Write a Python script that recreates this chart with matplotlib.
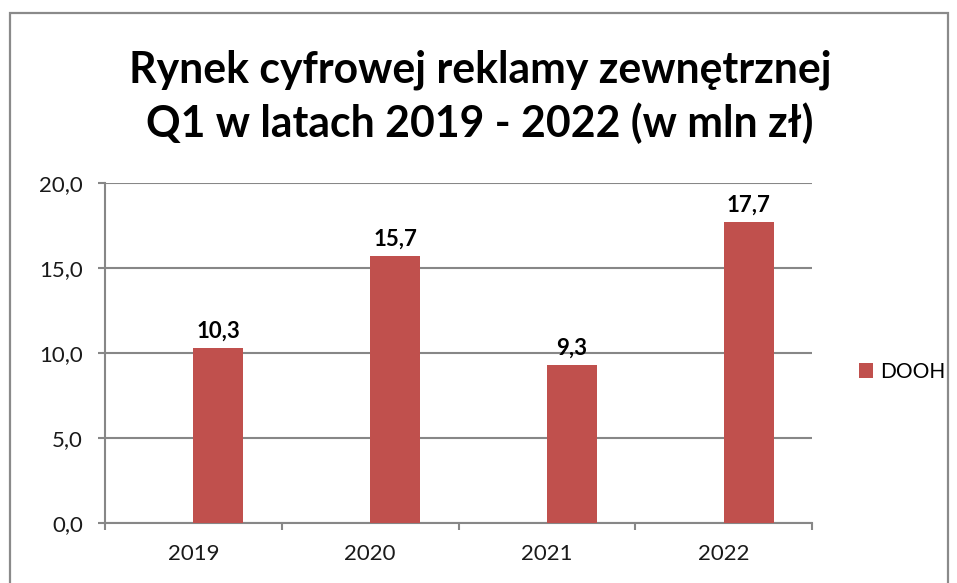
import matplotlib
matplotlib.use("Agg")
import matplotlib.pyplot as plt
from matplotlib.patches import Rectangle
from matplotlib.ticker import FuncFormatter, FixedLocator

# Data
years = ["2019", "2020", "2021", "2022"]
dooh = [10.3, 15.7, 9.3, 17.7]
series_name = "DOOH"
title_lines = ["Rynek cyfrowej reklamy zewnętrznej", "Q1 w latach 2019 - 2022 (w mln zł)"]

bar_color = "#C0504D"
grid_color = "#878787"
font = "Lato"

W, H = 957, 583
fig = plt.figure(figsize=(W / 100, H / 100), dpi=100)

# outer chart border (bottom edge cut off like in the source)
fig.patches.append(Rectangle((10 / W, -0.05), 938 / W, 1.05 - 13 / H,
                             transform=fig.transFigure, fill=False,
                             edgecolor="#8a8a8a", linewidth=1.6))

ax = fig.add_axes([105 / W, 1 - 523 / H, 707 / W, 340 / H])

x = list(range(len(years)))
width = 0.283
ax.bar(x, dooh, width=width, align="edge", color=bar_color, label=series_name, zorder=3)

for xi, v in zip(x, dooh):
    ax.text(xi + width / 2, v + 0.35, f"{v:.1f}".replace(".", ","),
            ha="center", va="bottom", fontsize=16, fontweight="bold", family=font)

ax.set_xlim(-0.5, 3.5)
ax.set_ylim(0, 20)
ax.set_yticks([0, 5, 10, 15, 20])
ax.yaxis.set_major_formatter(FuncFormatter(lambda v, p: f"{v:.1f}".replace(".", ",")))
ax.set_xticks(x)
ax.set_xticklabels(years)
ax.xaxis.set_minor_locator(FixedLocator([-0.5, 0.5, 1.5, 2.5, 3.5]))

ax.grid(axis="y", color=grid_color, linewidth=1.5, zorder=0)
for s in ["top", "right"]:
    ax.spines[s].set_visible(False)
for s in ["left", "bottom"]:
    ax.spines[s].set_color(grid_color)
    ax.spines[s].set_linewidth(1.5)

ax.tick_params(axis="y", length=5, width=1.5, color=grid_color, pad=11, labelsize=16)
ax.tick_params(axis="x", which="major", length=0, pad=15, labelsize=16)
ax.tick_params(axis="x", which="minor", length=5, width=1.5, color=grid_color)
for lab in ax.get_xticklabels() + ax.get_yticklabels():
    lab.set_family(font)
    lab.set_color("#1a1a1a")

for line, base in zip(title_lines, [83, 137]):
    fig.text(480 / W, 1 - base / H, line, ha="center", va="baseline", fontsize=30.8,
             fontweight="bold", family=font)

ax.legend(loc="center left", bbox_to_anchor=(840 / W, 1 - 372 / H),
          bbox_transform=fig.transFigure, frameon=False, handlelength=0.7,
          handleheight=0.7, handletextpad=0.35, prop={"family": font, "size": 15})

fig.savefig("out.png", dpi=100)
